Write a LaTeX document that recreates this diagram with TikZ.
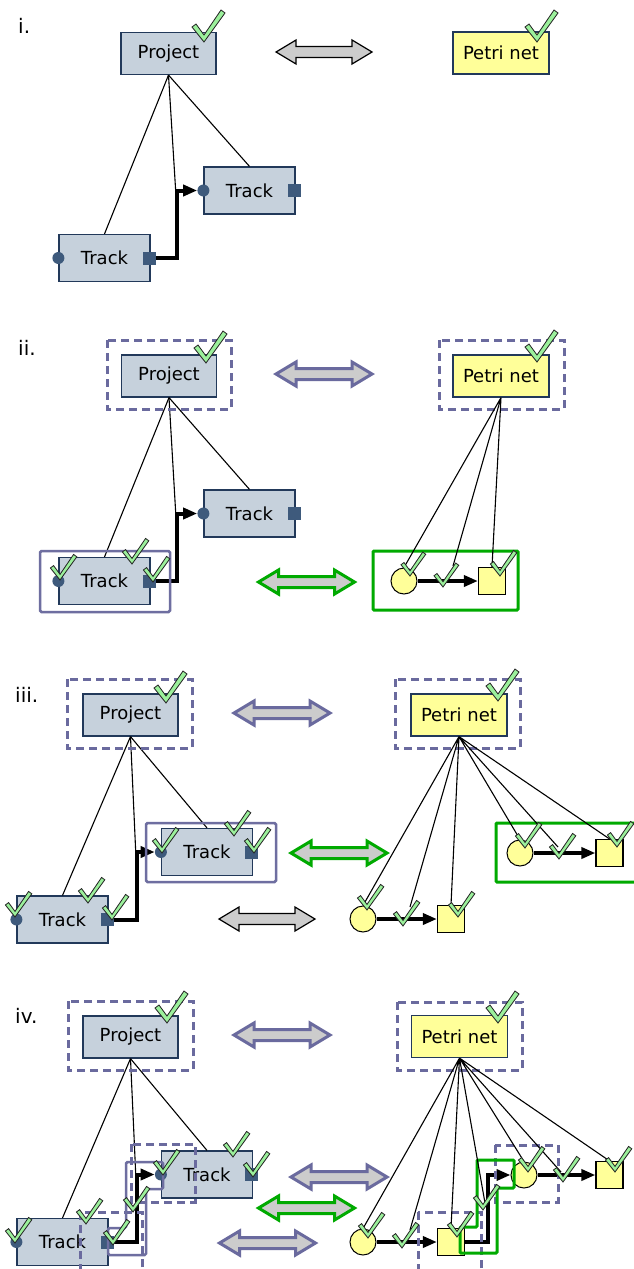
\documentclass[tikz,border=0pt]{standalone}
\usepackage{fontspec}
\setmainfont{DejaVu Sans}
\usetikzlibrary{arrows.meta}
\definecolor{boxfill}{HTML}{C6D1DC}
\definecolor{boxline}{HTML}{22395A}
\definecolor{portc}{HTML}{3E5A7C}
\definecolor{petri}{HTML}{FFFF99}
\definecolor{dashc}{HTML}{6A6A9E}
\definecolor{selc}{HTML}{6E6EA0}
\definecolor{grn}{HTML}{00AA00}
\definecolor{chkfill}{HTML}{9BF09B}
\definecolor{chkline}{HTML}{222222}
\definecolor{arrfill}{HTML}{CCCCCC}
\newcommand\lbl{\fontsize{18}{20}\selectfont}
\newcommand\plbl{\fontsize{20}{22}\selectfont}
\newcommand\dbl[3]{\draw[#1] (#2-48,#3) -- ++(20,-12) -- ++(0,6.5) -- ++(56,0) -- ++(0,-6.5) -- ++(20,12) -- ++(-20,12) -- ++(0,-6.5) -- ++(-56,0) -- ++(0,6.5) -- cycle;}
\newcommand\chk[3][0.8]{\draw[chkst, shift={(#2,#3)}, scale=#1] (-12,-15) -- (-8,-18) -- (0,-7) -- (17,-32) -- (21,-29) -- (0,0) -- cycle;}
\newcommand\track[3]{%
  \node[trk] (#1) at (#2,#3) {Track};
  \node[pin] (#1-in) at (#1.west) {};
  \node[pout] (#1-out) at ([xshift=-1.5pt]#1.east) {};}
\begin{document}
\begin{tikzpicture}[x=1pt,y=-1pt,
 box/.style={draw=boxline, line width=1.2pt, inner sep=0pt, font=\lbl},
 proj/.style={box, fill=boxfill, minimum width=95pt, minimum height=42pt},
 trk/.style={box, fill=boxfill, minimum width=91pt, minimum height=47pt},
 pn/.style={box, fill=petri, minimum width=96pt, minimum height=42pt},
 pin/.style={circle, fill=portc, minimum size=12pt, inner sep=0pt},
 pout/.style={rectangle, fill=portc, minimum size=13pt, inner sep=0pt},
 place/.style={circle, draw=black, line width=1pt, fill=petri, minimum size=26pt, inner sep=0pt},
 trans/.style={rectangle, draw=black, line width=1.2pt, fill=petri, minimum size=27pt, inner sep=0pt},
 tree/.style={line width=1.1pt, black},
 conn/.style={line width=4pt, black, line join=miter, -{Triangle[length=14pt,width=11pt]}},
 dsh/.style={draw=dashc, line width=3pt, dash pattern=on 8pt off 5pt},
 sel/.style={draw=selc, line width=2.5pt, rounded corners=1.5pt},
 gsel/.style={draw=grn, line width=3pt, rounded corners=1pt},
 chkst/.style={fill=chkfill, draw=chkline, line width=0.8pt, line join=miter},
 arrK/.style={fill=arrfill, draw=black, line width=1.2pt},
 arrP/.style={fill=arrfill, draw=dashc, line width=3pt},
 arrG/.style={fill=arrfill, draw=grn, line width=3pt},
 lab/.style={anchor=base west, inner sep=0pt, font=\plbl}
]
\clip (0,0) rectangle (634,1269);
\fill[white] (0,0) rectangle (634,1269);

% ---------------- panel i ----------------
\node[lab] (Li) at (18,33) {i.};
\coordinate (m1) at (176,196);
\node[proj] (P1) at (168.5,53.5) {Project};
\draw[tree] (P1.south) -- (m1);
\track{T1a}{104.5}{258}
\track{T1b}{249.5}{190.5}
\draw[tree] (P1.south) -- (T1a.north) (P1.south) -- (T1b.north);
\draw[conn] (T1a-out.east) -- ++(21,0) |- (T1b-in.west);
\node[pn] (PN1) at (501,53) {Petri net};
\dbl{arrK}{324}{52}
\chk[1]{204}{42}
\chk[1]{537}{42}

% ---------------- panel ii ----------------
\node[lab] (Lii) at (18,355) {ii.};
\coordinate (m2) at (176,518);
\node[proj] (P2) at (169,376) {Project};
\draw[tree] (P2.south) -- (m2);
\track{T2a}{104.5}{581}
\track{T2b}{249.5}{513.5}
\draw[tree] (P2.south) -- (T2a.north) (P2.south) -- (T2b.north);
\draw[conn] (T2a-out.east) -- ++(21,0) |- (T2b-in.west);
\draw[dsh] (107,340) rectangle (231,409);
\draw[sel] (40,551) rectangle (170,612);
\dbl{arrP}{324}{374}
\dbl{arrG}{306.5}{582}
\node[pn] (PN2) at (501,376) {Petri net};
\draw[dsh] (439,340) rectangle (564,409);
\draw[gsel] (373,551) rectangle (518,610);
\node[place] (pl2) at (404,581) {};
\node[trans] (sq2) at (492,581) {};
\draw[conn] (pl2.east) -- (sq2.west);
\coordinate (a2) at (453,566);
\draw[tree] (PN2.south) -- (pl2.north) (PN2.south) -- (a2) (PN2.south) -- (sq2.north);
\chk[1]{206}{363}
\chk[1]{537}{362}
\chk{60}{580}
\chk{132}{564}
\chk{153}{582}
\chk[0.75]{410}{576}
\chk[0.75]{443}{587}
\chk{500}{576}

% ---------------- panel iii ----------------
\node[lab] (Liii) at (15,702) {iii.};
\coordinate (m3) at (136,858);
\node[proj] (P3) at (130.5,715) {Project};
\draw[tree] (P3.south) -- (m3);
\track{T3a}{62.5}{919.5}
\track{T3b}{207}{852}
\draw[tree] (P3.south) -- (T3a.north) (P3.south) -- (T3b.north);
\draw[conn] (T3a-out.east) -- ++(23,0) |- (T3b-in.west);
\draw[dsh] (67,679) rectangle (192,748);
\draw[sel] (146,823) rectangle (276,882);
\dbl{arrP}{282}{713}
\dbl{arrG}{339}{853}
\dbl{arrK}{267}{919}
\node[pn] (PN3) at (459,715) {Petri net};
\draw[dsh] (395,679) rectangle (520,748);
\node[place] (pl3a) at (363,919) {};
\node[trans] (sq3a) at (451,919) {};
\draw[conn] (pl3a.east) -- (sq3a.west);
\node[place] (pl3b) at (520,853) {};
\node[trans] (sq3b) at (609.5,853) {};
\draw[conn] (pl3b.east) -- (sq3b.west);
\draw[gsel] (496,823) rectangle (650,882);
\coordinate (a3a) at (410,907);
\coordinate (a3b) at (558,847);
\draw[tree] (PN3.south) -- (pl3a.north) (PN3.south) -- (a3a) (PN3.south) -- (sq3a.north)
            (PN3.south) -- (pl3b.north) (PN3.south) -- (a3b) (PN3.south) -- (sq3b.north);
\chk[1]{166}{703}
\chk[1]{498}{701}
\chk{162}{853}
\chk{234}{836}
\chk{254}{853}
\chk{15}{917}
\chk{88}{903}
\chk{112}{920}
\chk{367}{910}
\chk{403}{926}
\chk{458}{917}
\chk{525}{848}
\chk{559}{859}
\chk{617}{847}

% ---------------- panel iv ----------------
\node[lab] (Liv) at (15,1023) {iv.};
\coordinate (m4) at (136,1180);
\node[proj] (P4) at (130.5,1037) {Project};
\draw[tree] (P4.south) -- (m4);
\track{T4a}{62.5}{1242}
\track{T4b}{207}{1174.5}
\draw[tree] (P4.south) -- (T4a.north) (P4.south) -- (T4b.north);
\draw[conn] (T4a-out.east) -- ++(23,0) |- (T4b-in.west);
\draw[dsh] (68,1001) rectangle (193,1070);
\draw[dsh] (131,1144) rectangle (195,1202);
\draw[dsh] (80,1212) rectangle (142,1280);
\draw[sel] (126,1162) -- (163,1162) -- (163,1189) -- (146,1189) -- (146,1255) -- (108,1255) -- (108,1228) -- (126,1228) -- cycle;
\dbl{arrP}{282}{1035}
\dbl{arrP}{339}{1177}
\dbl{arrG}{306.5}{1208}
\dbl{arrP}{267.5}{1243}
\node[pn] (PN4) at (459.5,1036.5) {Petri net};
\draw[dsh] (397,1002) rectangle (522,1070);
\node[place] (pl4a) at (363,1242) {};
\node[trans] (sq4a) at (451,1242) {};
\draw[conn] (pl4a.east) -- (sq4a.west);
\node[place] (pl4b) at (524,1175) {};
\node[trans] (sq4b) at (609.5,1175) {};
\draw[conn] (pl4b.east) -- (sq4b.west);
\draw[conn] (sq4a.east) -- ++(23,0) |- (pl4b.west);
\draw[dsh] (495,1145) rectangle (558,1202);
\draw[dsh] (418,1212) rectangle (481,1280);
\draw[gsel] (477,1160) -- (514,1160) -- (514,1188) -- (497,1188) -- (497,1253) -- (460,1253) -- (460,1227) -- (477,1227) -- cycle;
\coordinate (a4a) at (410,1230);
\coordinate (a4c) at (485,1203);
\coordinate (a4b) at (561,1172);
\draw[tree] (PN4.south) -- (pl4a.north) (PN4.south) -- (a4a) (PN4.south) -- (sq4a.north)
            (PN4.south) -- (a4c) (PN4.south) -- (pl4b.north) (PN4.south) -- (a4b) (PN4.south) -- (sq4b.north);
\chk[1]{167}{1023}
\chk[1]{498}{1023}
\chk{163}{1175}
\chk{233}{1157}
\chk{253}{1177}
\chk{15}{1243}
\chk{86}{1224}
\chk{113}{1245}
\chk{133}{1212}
\chk{368}{1238}
\chk{402}{1248}
\chk{457}{1237}
\chk{528}{1172}
\chk{563}{1182}
\chk{615}{1172}
\chk{483}{1210}
\end{tikzpicture}
\end{document}
